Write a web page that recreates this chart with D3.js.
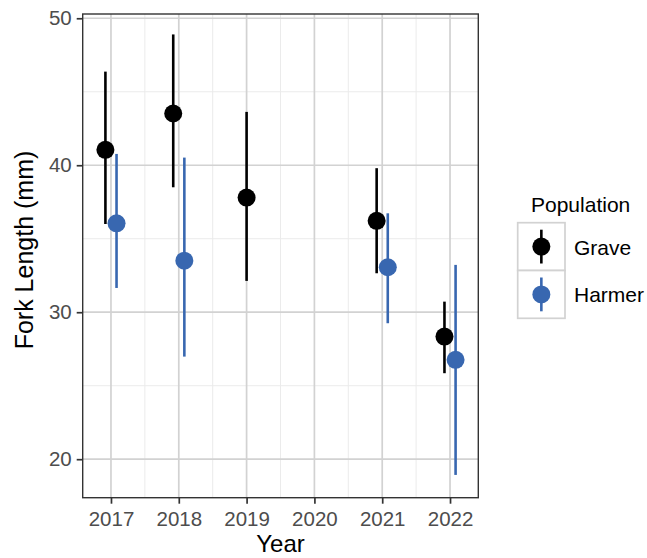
<!DOCTYPE html>
<html>
<head>
<meta charset="utf-8">
<script src="https://cdn.jsdelivr.net/npm/d3@7"></script>
<style>
  html, body { margin: 0; padding: 0; background: #fff; }
  svg { display: block; font-family: "Liberation Sans", Arial, sans-serif; }
</style>
</head>
<body>
<svg id="chart" width="647" height="558"></svg>
<script>
// ---- data ----
const years = [2017, 2018, 2019, 2020, 2021, 2022];
const populations = ["Grave", "Harmer"];
const colors = ["#000000", "#3867b0"];
const graveYears = [2017, 2018, 2019, 2021, 2022];
const graveMean  = [41.05, 43.52, 37.80, 36.22, 28.34];
const graveLow   = [36.00, 38.50, 32.13, 32.65, 25.85];
const graveHigh  = [46.37, 48.90, 43.63, 39.80, 30.72];
const harmerYears = [2017, 2018, 2021, 2022];
const harmerMean  = [36.05, 33.51, 33.06, 26.76];
const harmerLow   = [31.65, 26.98, 29.25, 18.93];
const harmerHigh  = [40.77, 40.52, 36.73, 33.22];
const yTicks = [20, 30, 40, 50];

const series = [
  { name: "Grave", years: graveYears, mean: graveMean, low: graveLow, high: graveHigh, color: colors[0] },
  { name: "Harmer", years: harmerYears, mean: harmerMean, low: harmerLow, high: harmerHigh, color: colors[1] }
];

const svg = d3.select("#chart");
const P = { left: 82.7, right: 478.3, top: 14, bottom: 497.7 };

const x = d3.scaleLinear().domain([2016.583, 2022.417]).range([P.left, P.right]);
const y = d3.scaleLinear().domain([17.38, 50.29]).range([P.bottom, P.top]);

// panel background
svg.append("rect").attr("x", P.left).attr("y", P.top)
  .attr("width", P.right - P.left).attr("height", P.bottom - P.top).attr("fill", "#fff");

// minor grid
const g = svg.append("g");
[25, 35, 45].forEach(v => {
  g.append("line").attr("x1", P.left).attr("x2", P.right).attr("y1", y(v)).attr("y2", y(v))
    .attr("stroke", "#ebebeb").attr("stroke-width", 1);
});
[2017.5, 2018.5, 2019.5, 2020.5, 2021.5].forEach(v => {
  g.append("line").attr("y1", P.top).attr("y2", P.bottom).attr("x1", x(v)).attr("x2", x(v))
    .attr("stroke", "#ebebeb").attr("stroke-width", 1);
});
// major grid
yTicks.forEach(v => {
  g.append("line").attr("x1", P.left).attr("x2", P.right).attr("y1", y(v)).attr("y2", y(v))
    .attr("stroke", "#d2d2d2").attr("stroke-width", 1.7);
});
years.forEach(v => {
  g.append("line").attr("y1", P.top).attr("y2", P.bottom).attr("x1", x(v)).attr("x2", x(v))
    .attr("stroke", "#d2d2d2").attr("stroke-width", 1.7);
});

// data
const dodge = 0.082;
series.forEach((s, si) => {
  const grp = svg.append("g");
  s.years.forEach((yr, i) => {
    const hasBoth = graveYears.includes(yr) && harmerYears.includes(yr);
    const xv = hasBoth ? yr + (si === 0 ? -dodge : dodge) : yr;
    grp.append("line").attr("x1", x(xv)).attr("x2", x(xv))
      .attr("y1", y(s.low[i])).attr("y2", y(s.high[i]))
      .attr("stroke", s.color).attr("stroke-width", 2.6);
    grp.append("circle").attr("cx", x(xv)).attr("cy", y(s.mean[i])).attr("r", 9)
      .attr("fill", s.color);
  });
});

// panel border
svg.append("rect").attr("x", P.left).attr("y", P.top)
  .attr("width", P.right - P.left).attr("height", P.bottom - P.top)
  .attr("fill", "none").attr("stroke", "#333").attr("stroke-width", 1.4);

// axes
const xAxis = svg.append("g").attr("transform", `translate(0,${P.bottom})`)
  .call(d3.axisBottom(x).tickValues(years).tickFormat(d3.format("d")).tickSize(6).tickPadding(8));
const yAxis = svg.append("g").attr("transform", `translate(${P.left},0)`)
  .call(d3.axisLeft(y).tickValues(yTicks).tickSize(6).tickPadding(5));
[xAxis, yAxis].forEach(a => {
  a.select(".domain").remove();
  a.selectAll(".tick line").attr("stroke", "#333").attr("stroke-width", 1.7);
  a.selectAll(".tick text").attr("fill", "#4d4d4d").style("font-size", "20.5px")
    .style("font-family", "'Liberation Sans', Arial, sans-serif");
});

// axis titles
svg.append("text").attr("x", (P.left + P.right) / 2).attr("y", 552)
  .attr("text-anchor", "middle").attr("fill", "#000").style("font-size", "24px").text("Year");
svg.append("text").attr("transform", `translate(33,250) rotate(-90)`)
  .attr("text-anchor", "middle").attr("fill", "#000").style("font-size", "25px").text("Fork Length (mm)");

// legend
const L = { x: 517.7, y: 222.7, w: 47.3, h: 47.8 };
svg.append("text").attr("x", 531).attr("y", 211.5).attr("fill", "#000")
  .style("font-size", "21px").text("Population");
populations.forEach((p, i) => {
  const ky = L.y + i * L.h;
  svg.append("rect").attr("x", L.x).attr("y", ky).attr("width", L.w).attr("height", L.h)
    .attr("fill", "#fff").attr("stroke", "#d2d2d2").attr("stroke-width", 1.7);
  const cx = L.x + L.w / 2, cy = ky + L.h / 2;
  svg.append("line").attr("x1", cx).attr("x2", cx).attr("y1", ky + 7).attr("y2", ky + L.h - 7)
    .attr("stroke", colors[i]).attr("stroke-width", 2.6);
  svg.append("circle").attr("cx", cx).attr("cy", cy).attr("r", 9).attr("fill", colors[i]);
  svg.append("text").attr("x", 574).attr("y", cy + 8).attr("fill", "#000")
    .style("font-size", "21px").text(p);
});
</script>
</body>
</html>
